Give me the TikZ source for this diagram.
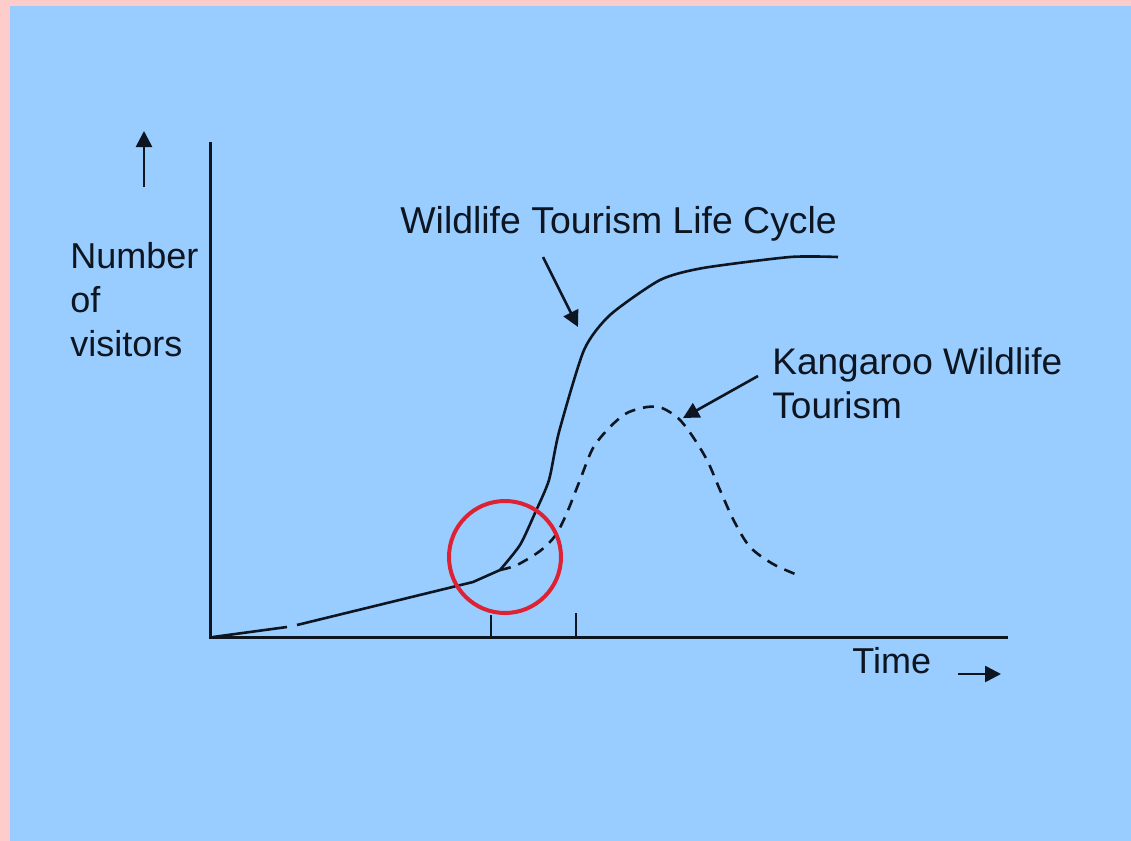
\documentclass[tikz,border=0pt]{standalone}
\usepackage{fontspec}
\setmainfont{Liberation Sans}
\usetikzlibrary{arrows.meta}
\definecolor{pinkbg}{HTML}{FFCCCC}
\definecolor{bluebg}{HTML}{99CCFF}
\definecolor{ringred}{HTML}{DD2233}
\definecolor{ink}{HTML}{0D1520}
\begin{document}
\begin{tikzpicture}[x=0.5pt,y=-0.5pt,
  lbl/.style={anchor=base west,inner sep=0pt,font=\fontsize{18}{22}\selectfont,text=ink},
  biglbl/.style={lbl,font=\fontsize{18.7}{22}\selectfont},
  midlbl/.style={lbl,font=\fontsize{18.5}{22}\selectfont},
  axisline/.style={draw=ink,line width=1.5pt},
  curveline/.style={draw=ink,line width=1.3pt,line join=round},
  dashcurve/.style={draw=ink,line width=1.3pt,dash pattern=on 5.5pt off 4pt},
  pointer/.style={draw=ink,line width=1.3pt,-{Triangle[length=8pt,width=8pt]}},
  tick/.style={draw=ink,line width=1.2pt}]
\useasboundingbox (0,0) rectangle (1131,841);
\fill[pinkbg] (0,0) rectangle (1131,841);
\fill[bluebg] (10,6) rectangle (1131,841);
% axes
\coordinate (O) at (210,637);
\coordinate (ytop) at (210,142);
\coordinate (xend) at (1008,637);
\draw[axisline] (ytop) -- (O) -- (xend);
% direction arrows
\coordinate (ua1) at (144,187);
\coordinate (ua2) at (144,131);
\draw[pointer] (ua1) -- (ua2);
\coordinate (ra1) at (958,674);
\coordinate (ra2) at (1001,674);
\draw[pointer] (ra1) -- (ra2);
% ticks
\coordinate (t1a) at (491,615); \coordinate (t1b) at (491,637);
\coordinate (t2a) at (576,613); \coordinate (t2b) at (576,637);
\draw[tick] (t1a) -- (t1b);
\draw[tick] (t2a) -- (t2b);
% labels
\node[lbl] (num) at (70,268) {Number};
\node[lbl] (of) at (70,312) {of};
\node[lbl] (vis) at (70,356) {visitors};
\node[lbl] (time) at (852,673) {Time};
\node[biglbl] (wtlc) at (400,233) {Wildlife Tourism Life Cycle};
\node[midlbl] (kwt1) at (772,374) {Kangaroo Wildlife};
\node[midlbl] (kwt2) at (772,418) {Tourism};
% curves
\coordinate (kink) at (500,570);
\draw[curveline] (213,637) -- (287,627);
\draw[curveline] (297,625) -- (473,582) -- (kink);
\draw[curveline] plot[smooth,tension=0.4] coordinates {(500,570) (520,545) (535,513) (549,480) (559,432) (584,350) (610,315) (660,280) (703,268) (790,257) (838,257)};
\draw[dashcurve] plot[smooth,tension=0.5] coordinates {(500,570) (517,565) (540,551) (555,536) (566,515) (580,480) (593,448) (610,427) (627,413) (647,407) (662,408) (678,418) (691,434) (707,460) (720,490) (734,521) (750,547) (773,564) (800,576)};
% ring
\coordinate (rc) at (505,557);
\draw[ringred,line width=2pt] (rc) circle[radius=56];
% pointers
\coordinate (p1a) at (543,257); \coordinate (p1b) at (578,327);
\draw[pointer] (p1a) -- (p1b);
\coordinate (p2a) at (758,376); \coordinate (p2b) at (683,418);
\draw[pointer] (p2a) -- (p2b);
\end{tikzpicture}
\end{document}
